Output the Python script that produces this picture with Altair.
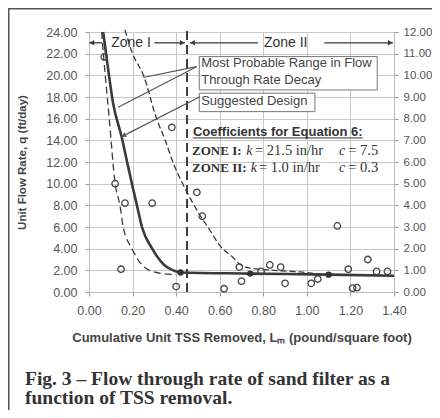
import altair as alt
import pandas as pd

# ---------------- data ----------------
obs_x = [0.07, 0.12, 0.147, 0.165, 0.29, 0.38, 0.40, 0.495, 0.52, 0.62, 0.69, 0.70,
         0.79, 0.83, 0.88, 0.90, 1.02, 1.05, 1.14, 1.19, 1.21, 1.23, 1.28, 1.32, 1.37]
obs_y = [21.7, 10.0, 2.1, 8.2, 8.2, 15.2, 0.5, 9.2, 7.0, 0.3, 2.3, 1.0,
         1.9, 2.5, 2.3, 0.8, 0.8, 1.2, 6.1, 2.1, 0.35, 0.4, 3.0, 1.9, 1.9]

design_x = [0.065, 0.085, 0.11, 0.15, 0.175, 0.197, 0.22, 0.243, 0.29, 0.34, 0.40, 0.42, 0.74, 1.10, 1.40]
design_y = [24.0, 21.0, 17.5, 14.3, 12.0, 10.0, 8.0, 6.0, 4.0, 2.6, 1.9, 1.8, 1.7, 1.6, 1.5]

low_x = [0.058, 0.066, 0.093, 0.12, 0.142, 0.157, 0.197, 0.243, 0.31, 0.40]
low_y = [24.0, 22.0, 16.0, 10.0, 8.0, 6.0, 4.0, 2.5, 1.8, 1.6]

up_x = [0.165, 0.20, 0.25, 0.31, 0.35, 0.385, 0.44, 0.50, 0.555, 0.60, 0.66, 0.69, 0.74, 0.85, 0.97, 1.10, 1.24]
up_y = [24.2, 22.0, 20.0, 16.0, 14.0, 12.0, 9.6, 7.4, 5.7, 4.3, 3.2, 2.6, 2.2, 2.0, 1.85, 1.6, 1.6]

dot_x = [0.42, 0.74, 1.10]
dot_y = [1.8, 1.7, 1.6]

zone_boundary = 0.45

x_ticks = [0.0, 0.2, 0.4, 0.6, 0.8, 1.0, 1.2, 1.4]
y_ticks = [0, 2, 4, 6, 8, 10, 12, 14, 16, 18, 20, 22, 24]
y2_ticks = [0, 1, 2, 3, 4, 5, 6, 7, 8, 9, 10, 11, 12]

x_title = "Cumulative Unit TSS Removed, Lₘ (pound/square foot)"
y_title = "Unit Flow Rate, q (ft/day)"
caption = "Fig. 3 – Flow through rate of sand filter as a\nfunction of TSS removal."

box_text = ["Most Probable Range in Flow", "Through Rate Decay", "Suggested Design"]
coef_head = "Coefficients for Equation 6:"

# ---------------- styling ----------------
SANS = "Liberation Sans"
SERIF = "Liberation Serif"
DARK = "#3a3a3a"
W, H = 305, 260

xs = alt.Scale(domain=[0, 1.4], nice=False, zero=False)
ys = alt.Scale(domain=[0, 24], nice=False, zero=False)
x_axis = alt.Axis(values=x_ticks, format=".2f", title=x_title, grid=True, tickSize=4, labelFlush=False,
                  labelPadding=8, titlePadding=15, titleFontSize=13, titleFontWeight="bold",
                  titleColor="#444", titleFont=SANS)
y_axis = alt.Axis(values=y_ticks, format=".2f", title=y_title, grid=True, tickSize=4, labelFlush=False,
                  labelPadding=8, titlePadding=18, titleFontSize=11.5, titleFontWeight="bold",
                  titleColor="#444", titleFont=SANS)


def ex(f="x"):
    return alt.X(f"{f}:Q", scale=xs, axis=x_axis)


def ey(f="y"):
    return alt.Y(f"{f}:Q", scale=ys, axis=y_axis)


def curve(xv, yv, **mk):
    df = pd.DataFrame({"x": xv, "y": yv})
    return alt.Chart(df).mark_line(interpolate="monotone", color=DARK, **mk).encode(x=ex(), y=ey())


low_line = curve(low_x, low_y, strokeWidth=1.3, strokeDash=[7, 4])
up_line = curve(up_x, up_y, strokeWidth=1.3, strokeDash=[6, 3])
design_line = curve(design_x, design_y, strokeWidth=2.6)

vline = alt.Chart(pd.DataFrame({"x": [zone_boundary], "y": [0.0], "y2": [24.2]})).mark_rule(
    color=DARK, strokeWidth=2, strokeDash=[9, 5]).encode(x=ex(), y=ey(), y2="y2:Q")

obs = alt.Chart(pd.DataFrame({"x": obs_x, "y": obs_y})).mark_point(
    shape="circle", filled=False, size=42, strokeWidth=1.3, color="#444", opacity=1).encode(x=ex(), y=ey())

dots = alt.Chart(pd.DataFrame({"x": dot_x, "y": dot_y})).mark_point(
    shape="circle", filled=True, size=40, color="#333", opacity=1).encode(x=ex(), y=ey())

# zone arrows
seg = pd.DataFrame({"x": [0.0, 0.30, 0.463, 1.08], "x2": [0.06, 0.44, 0.775, 1.395], "y": [23.0] * 4})
zone_lines = alt.Chart(seg).mark_rule(color=DARK, strokeWidth=1.3).encode(x=ex(), x2="x2:Q", y=ey())
heads = pd.DataFrame({"x": [0.013, 0.428, 0.475, 1.383], "y": [23.0] * 4,
                      "s": ["triangle-left", "triangle-right", "triangle-left", "triangle-right"]})
zone_heads = alt.Chart(heads).mark_point(filled=True, size=30, color=DARK, opacity=1).encode(
    x=ex(), y=ey(), shape=alt.Shape("s:N", scale=None))
zone_txt = alt.Chart(pd.DataFrame({"t": ["Zone I", "Zone II"], "x": [0.193, 0.903], "y": [23.0, 23.0]})).mark_text(
    font=SANS, fontSize=14, color="#333").encode(x=ex(), y=ey(), text="t:N")

# boxes
boxes = alt.Chart(pd.DataFrame({"x": [0.506, 0.506], "x2": [1.323, 1.037],
                                "y": [18.65, 16.65], "y2": [21.73, 18.35]})).mark_rect(
    fill="white", stroke="#777", strokeWidth=1).encode(x=ex(), x2="x2:Q", y=ey(), y2="y2:Q")
btxt = alt.Chart(pd.DataFrame({"t": box_text, "x": [0.515] * 3, "y": [21.15, 19.58, 17.66]})).mark_text(
    font=SANS, fontSize=13, color="#444", align="left").encode(x=ex(), y=ey(), text="t:N")

leaders = alt.Chart(pd.DataFrame({"x": [0.494, 0.494, 0.509], "y": [20.8, 20.8, 18.03],
                                  "x2": [0.249, 0.134, 0.150], "y2": [19.8, 17.05, 14.34]})).mark_rule(
    color="#555", strokeWidth=1.2).encode(x=ex(), y=ey(), x2="x2:Q", y2="y2:Q")
leader_head = alt.Chart(pd.DataFrame({"x": [0.162], "y": [14.47]})).mark_point(
    shape="triangle", filled=True, size=28, angle=243, color="#555", opacity=1).encode(x=ex(), y=ey())

# coefficients
head = alt.Chart(pd.DataFrame({"t": [coef_head], "x": [0.477], "y": [14.8]})).mark_text(
    font=SANS, fontSize=13, fontWeight="bold", color="#333", align="left").encode(x=ex(), y=ey(), text="t:N")
uline = alt.Chart(pd.DataFrame({"x": [0.477], "x2": [1.257], "y": [14.22]})).mark_rule(
    color="#333", strokeWidth=1).encode(x=ex(), x2="x2:Q", y=ey())
cb = alt.Chart(pd.DataFrame({"t": ["ZONE I:", "ZONE II:"], "x": [0.473, 0.473], "y": [12.99, 11.42]})).mark_text(
    font=SERIF, fontSize=13, fontWeight="bold", color="#333", align="left").encode(x=ex(), y=ey(), text="t:N")
ci = alt.Chart(pd.DataFrame({"t": ["k", "c", "k", "c"], "x": [0.722, 1.148, 0.743, 1.148],
                             "y": [12.99, 12.99, 11.42, 11.42]})).mark_text(
    font=SERIF, fontSize=14, fontStyle="italic", color="#333", align="left").encode(x=ex(), y=ey(), text="t:N")
cn = alt.Chart(pd.DataFrame({"t": ["= 21.5 in/hr", "= 7.5", "=  1.0 in/hr", "= 0.3"],
                             "x": [0.762, 1.19, 0.78, 1.19],
                             "y": [12.99, 12.99, 11.42, 11.42]})).mark_text(
    font=SERIF, fontSize=14.5, color="#333", align="left").encode(x=ex(), y=ey(), text="t:N")

# frame lines and caption
one = pd.DataFrame({"t": [caption]})
top_border = alt.Chart(one).mark_rule(color="#555", strokeWidth=2).encode(
    x=alt.value(-80.5), x2=alt.value(343), y=alt.value(-23.5))
left_border = alt.Chart(one).mark_rule(color="#555", strokeWidth=2).encode(
    x=alt.value(-80.5), y=alt.value(-24), y2=alt.value(378))
cap = alt.Chart(one).mark_text(font=SERIF, fontSize=19.5, fontWeight="bold", color="#333", align="left",
                               baseline="alphabetic", lineBreak="\n", lineHeight=19.5).encode(
    x=alt.value(-64), y=alt.value(352.5), text="t:N")

inner = alt.layer(low_line, up_line, design_line, vline, obs, dots, zone_lines, zone_heads, zone_txt,
                  boxes, btxt, leaders, leader_head, head, uline, cb, ci, cn,
                  top_border, left_border, cap)

right = alt.Chart(pd.DataFrame({"y": [0, 12]})).mark_point(opacity=0).encode(
    y=alt.Y("y:Q", scale=alt.Scale(domain=[0, 12], nice=False, zero=False),
            axis=alt.Axis(orient="right", values=y2_ticks, format=".2f", grid=False, tickSize=4,
                          labelFlush=False, labelPadding=5, labelFontSize=11.5, title=None)))

chart = alt.layer(inner, right).resolve_scale(y="independent").properties(
    width=W, height=H,
    padding={"left": 81, "top": 24, "right": 38, "bottom": 118},
    autosize=alt.AutoSizeParams(type="none"),
    background="white",
).configure_view(stroke=None).configure_axis(
    labelFont=SANS, labelFontSize=12.5, labelColor="#555", tickColor="#999",
    domainColor="#bbb", gridColor="#c8c8c8", gridWidth=1)

chart.save("out.html", embed_options={"renderer": "svg", "actions": False})
